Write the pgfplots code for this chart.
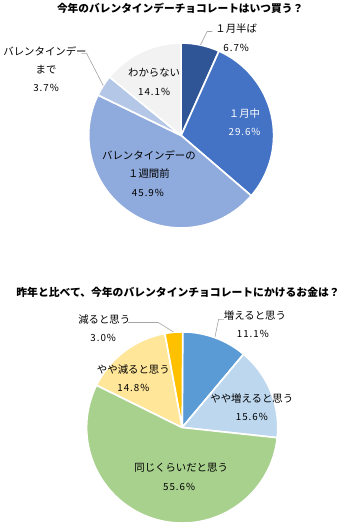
\documentclass[border=0pt]{standalone}
\usepackage{pgfplots}
\usepackage{pgfplotstable}
\pgfplotsset{compat=1.18}
\usepackage{fontspec}
\setmainfont{Noto Sans CJK JP}
\newfontfamily\numfont[LetterSpace=10]{Noto Sans CJK JP}
\definecolor{c1}{HTML}{2F5597}
\definecolor{c2}{HTML}{4472C4}
\definecolor{c3}{HTML}{8FAADC}
\definecolor{c4}{HTML}{B4C7E7}
\definecolor{c5}{HTML}{F2F2F2}
\definecolor{c6}{HTML}{5B9BD5}
\definecolor{c7}{HTML}{BDD7EE}
\definecolor{c8}{HTML}{A9D18E}
\definecolor{c9}{HTML}{FFE699}
\definecolor{c10}{HTML}{FFC000}
\definecolor{txt}{HTML}{404040}
\definecolor{lead}{HTML}{A6A6A6}
\pgfdeclareplotmark{emptymark}{}
\tikzset{num/.style={font=\fontsize{9.4}{10}\selectfont\numfont}}

% pie 1: when buy (percent, starting at 12 o'clock, clockwise)
\pgfplotstableread{
x y r start pct col
179 142 89 0 6.7 1
179 142 89 6.7 29.6 2
179 142 89 36.3 45.9 3
179 142 89 82.2 3.7 4
179 142 89 85.9 14.1 5
}\pieA
% pie 2: spending vs last year
\pgfplotstableread{
x y r start pct col
180 423 92 0 11.1 6
180 423 92 11.1 15.6 7
180 423 92 26.7 55.6 8
180 423 92 82.3 14.8 9
180 423 92 97.1 3.0 10
}\pieB

\pgfplotsset{
  pie slices/.style={
    scatter, only marks, mark=emptymark, point meta=explicit,
    visualization depends on={\thisrow{start} \as \st},
    visualization depends on={\thisrow{pct} \as \pc},
    visualization depends on={\thisrow{r} \as \rr},
    visualization depends on={\thisrow{col} \as \ci},
    scatter/@pre marker code/.code={%
      \pgfmathsetmacro\aS{90-3.6*\st}%
      \pgfmathsetmacro\aE{90-3.6*(\st+\pc)}%
      \pgfmathsetmacro\rad{\rr}%
      \pgfmathtruncatemacro\k{round(\ci)}%
      \filldraw[fill=c\k, draw=white, line width=1.6pt, line join=round]
        (0,0) -- (\aS:\rad pt) arc[start angle=\aS, end angle=\aE, radius=\rad pt] -- cycle;
    },
    scatter/@post marker code/.code={},
  }
}

\begin{document}
\begin{tikzpicture}
\begin{axis}[
  set layers,
  scale only axis, width=358pt, height=529pt,
  xmin=0, xmax=358, ymin=0, ymax=529, y dir=reverse,
  hide axis, clip=false,
  every node/.style={font=\fontsize{8.9}{10}\selectfont, text=txt, inner sep=0pt},
]
\addplot[pie slices] table[x=x, y=y, meta=pct] {\pieA};
\addplot[pie slices] table[x=x, y=y, meta=pct] {\pieB};

\begin{pgfonlayer}{axis foreground}
% titles
\node[font=\fontsize{10.3}{12}\selectfont\bfseries, text=black] at (axis cs:178,20) {今年のバレンタインデーチョコレートはいつ買う？};
\node[font=\fontsize{10.4}{12}\selectfont\bfseries, text=black] at (axis cs:176,293) {昨年と比べて、今年のバレンタインチョコレートにかけるお金は？};

% leader lines
\draw[lead, line width=0.6pt] (axis cs:197.5,55) -- (axis cs:204,42) -- (axis cs:209,42);
\draw[lead, line width=0.6pt] (axis cs:104,94) -- (axis cs:88,63) -- (axis cs:83,63);
\draw[lead, line width=0.6pt] (axis cs:211.5,336) -- (axis cs:215,319) -- (axis cs:220,319);
\draw[lead, line width=0.6pt] (axis cs:171.5,331) -- (axis cs:157,322) -- (axis cs:128,322);

% pie 1 labels
\node at (axis cs:232,39) {１月半ば};
\node[num] at (axis cs:232,58) {6.7\%};
\node[text=white] at (axis cs:240,121) {１月中};
\node[num, text=white] at (axis cs:240,139) {29.6\%};
\node at (axis cs:148,161) {バレンタインデーの};
\node at (axis cs:148,179) {１週間前};
\node[num] at (axis cs:147,197) {45.9\%};
\node at (axis cs:153,82) {わからない};
\node[num] at (axis cs:153,100) {14.1\%};
\node at (axis cs:48,61) {バレンタインデー};
\node at (axis cs:49,79) {まで};
\node[num] at (axis cs:49,96) {3.7\%};

% pie 2 labels
\node at (axis cs:250,315) {増えると思う};
\node[num] at (axis cs:248,333) {11.1\%};
\node at (axis cs:247,395) {やや増えると思う};
\node[num] at (axis cs:247,413) {15.6\%};
\node at (axis cs:179,462) {同じくらいだと思う};
\node[num] at (axis cs:177,480) {55.6\%};
\node at (axis cs:133,367) {やや減ると思う};
\node[num] at (axis cs:133,385) {14.8\%};
\node at (axis cs:105,319) {減ると思う};
\node[num] at (axis cs:104,337) {3.0\%};
\end{pgfonlayer}
\end{axis}
\end{tikzpicture}
\end{document}
